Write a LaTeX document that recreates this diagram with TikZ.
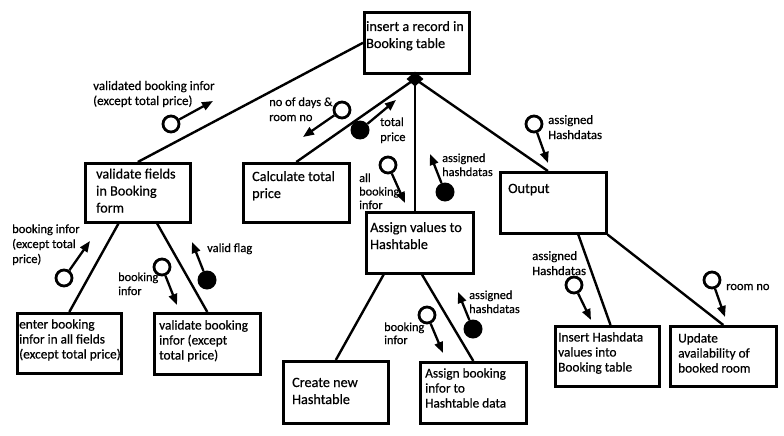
\documentclass[tikz,border=0pt]{standalone}
\usepackage{fontspec}
\setmainfont{Carlito}[FakeBold=0.5,BoldFont=Carlito,BoldFeatures={FakeBold=1.5}]
\usetikzlibrary{arrows.meta,shapes.geometric,calc}
\newcommand\mlines[1]{\begin{tabular}[t]{@{}l@{}}#1\end{tabular}}
\begin{document}
\begin{tikzpicture}[x=1pt,y=-1pt,
 box/.style={draw, line width=2.6pt, inner sep=0, anchor=north west},
 btxt/.style={anchor=base west, inner sep=0, font=\fontsize{14.2}{17}\selectfont},
 stxt/.style={anchor=base west, inner sep=0, font=\fontsize{13.3}{15}\selectfont},
 lbl/.style={anchor=base west, inner sep=0, font=\fontsize{12.5}{14.5}\selectfont},
 link/.style={line width=2.4pt},
 oc/.style={circle, draw, line width=2.8pt, minimum size=16pt, inner sep=0, fill=white},
 fc/.style={circle, fill, minimum size=19pt, inner sep=0},
 flow/.style={line width=2.3pt, -{Triangle[length=11pt,width=8.5pt]}},
 junc/.style={diamond, fill, minimum width=17pt, minimum height=15pt, inner sep=0},
]
\useasboundingbox[fill=white] (0,0) rectangle (784,436);

% boxes
\node[box, minimum width=105pt, minimum height=61pt] (top) at (363,11) {};
\node[box, minimum width=105pt, minimum height=59pt] (vf) at (84,162) {};
\node[box, minimum width=106pt, minimum height=59pt] (calc) at (242,162) {};
\node[box, minimum width=107pt, minimum height=61pt] (assign) at (365,211) {};
\node[box, minimum width=106pt, minimum height=61pt] (out) at (499,171) {};
\node[box, minimum width=104pt, minimum height=60pt] (enter) at (16,312) {};
\node[box, minimum width=106pt, minimum height=61pt] (vb) at (153,312) {};
\node[box, minimum width=105pt, minimum height=62pt] (cr) at (282,360) {};
\node[box, minimum width=106pt, minimum height=61pt] (abh) at (419,361) {};
\node[box, minimum width=104pt, minimum height=60pt] (ins) at (554,325) {};
\node[box, minimum width=106pt, minimum height=60pt] (upd) at (669,325) {};

% box texts
\node[btxt] (topT) at (366,31) {\mlines{insert a record in\\Booking table}};
\node[btxt] (vfT) at (96,178.5) {\mlines{validate fields\\in Booking\\form}};
\node[btxt] (calcT) at (252,181) {\mlines{Calculate total\\price}};
\node[btxt] (assignT) at (370,232) {\mlines{Assign values to\\Hashtable}};
\node[btxt] (outT) at (508,193) {Output};
\node[btxt] (crT) at (292,387) {\mlines{Create new\\Hashtable}};
\node[stxt] (enterT) at (19,328.5) {\mlines{enter booking\\infor in all fields\\(except total price)}};
\node[stxt] (vbT) at (159,329.5) {\mlines{validate booking\\infor (except\\total price)}};
\node[stxt] (abhT) at (425,377.5) {\mlines{Assign booking\\infor to\\Hashtable data}};
\node[stxt] (insT) at (558,341.5) {\mlines{Insert Hashdata\\values into\\Booking table}};
\node[stxt] (updT) at (678,342.5) {\mlines{Update\\availability of\\booked room}};

% junction and links
\coordinate (j) at (415,79);
\draw[link] (top.west) -- (vf.north);
\draw[link] (j) -- (calc.north);
\draw[link] (j) -- (j |- assign.north);
\draw[link] (j) -- ($(out.north west)!0.45!(out.north east)$);
\draw[link] ($(vf.south west)!0.32!(vf.south east)$) -- (enter.north);
\draw[link] ($(vf.south west)!0.68!(vf.south east)$) -- (vb.north);
\draw[link] ($(assign.south west)!0.17!(assign.south east)$) -- (cr.north);
\draw[link] ($(assign.south west)!0.52!(assign.south east)$) -- (abh.north);
\draw[link] ($(out.south west)!0.73!(out.south east)$) -- ($(ins.north west)!0.53!(ins.north east)$);
\draw[link] (out.south east) -- (upd.north);
\node[junc] (jd) at (j) {};

% couples
\node[oc] (c1) at (171,124) {};  \coordinate (c1e) at (213,101);
\node[oc] (c2) at (342,110) {};  \coordinate (c2e) at (303,137);
\node[fc] (c3) at (360,130) {};  \coordinate (c3e) at (396,100);
\node[oc] (c4) at (388,165) {};  \coordinate (c4e) at (405,203);
\node[fc] (c5) at (445,192) {};  \coordinate (c5e) at (430,154);
\node[oc] (c6) at (534,124) {};  \coordinate (c6e) at (548,163);
\node[oc] (c7) at (64,278) {};   \coordinate (c7e) at (90,241);
\node[oc] (c8) at (162,267) {};  \coordinate (c8e) at (177,305);
\node[fc] (c9) at (207,280) {};  \coordinate (c9e) at (192,242);
\node[oc] (c10) at (427,315) {}; \coordinate (c10e) at (443,353);
\node[fc] (c11) at (473,329) {}; \coordinate (c11e) at (458,292);
\node[oc] (c12) at (574,285) {}; \coordinate (c12e) at (591,320);
\node[oc] (c13) at (712,280) {}; \coordinate (c13e) at (725,317);
\foreach \i in {1,...,13} {\draw[flow] (c\i) -- (c\i e);}

% labels
\node[lbl, font=\fontsize{13}{15}\selectfont] (l1) at (93,90) {\mlines{validated booking infor\\(except total price)}};
\node[lbl, font=\fontsize{12.5}{15}\selectfont] (l2) at (269,106) {\mlines{no of days \&\\room no}};
\node[lbl, font=\fontsize{12.5}{15}\selectfont] (l3) at (380,126) {\mlines{total\\price}};
\node[lbl, font=\fontsize{12.3}{13.5}\selectfont] (l4) at (359,182) {\mlines{all\\booking\\infor}};
\node[lbl, font=\fontsize{12.3}{14}\selectfont] (l5) at (442,162) {\mlines{assigned\\hashdatas}};
\node[lbl, font=\fontsize{12.8}{15}\selectfont] (l6) at (548,124) {\mlines{assigned\\Hashdatas}};
\node[lbl, font=\fontsize{12.5}{15}\selectfont] (l7) at (12,233) {\mlines{booking infor\\(except total\\price)}};
\node[lbl, font=\fontsize{12.3}{14}\selectfont] (l8) at (118,281) {\mlines{booking\\infor}};
\node[lbl] (l9) at (207,252) {valid flag};
\node[lbl, font=\fontsize{12.3}{13}\selectfont] (l10) at (384,331) {\mlines{booking\\infor}};
\node[lbl, font=\fontsize{12.3}{14}\selectfont] (l11) at (469,299) {\mlines{assigned\\hashdatas}};
\node[lbl, font=\fontsize{12.8}{15}\selectfont] (l12) at (532,260) {\mlines{assigned\\Hashdatas}};
\node[lbl] (l13) at (726,290) {room no};
\end{tikzpicture}
\end{document}
